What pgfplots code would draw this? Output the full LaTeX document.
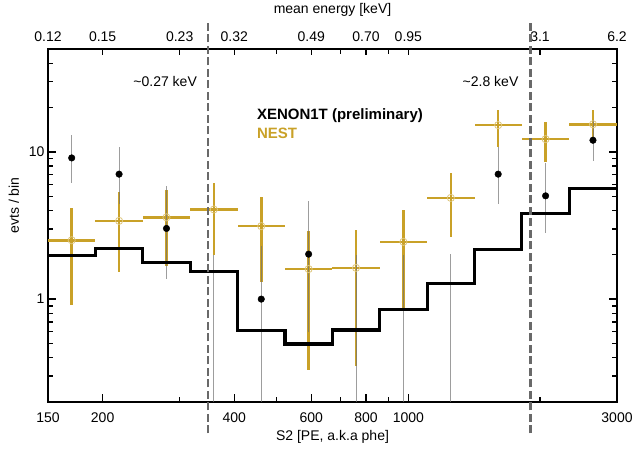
\documentclass[border=0pt]{standalone}
\usepackage{fontspec}
\setmainfont{Liberation Sans}
\usepackage{pgfplots}
\pgfplotsset{compat=1.18}
\usepackage{pgfplotstable}
\usetikzlibrary{calc}

\definecolor{nest}{RGB}{201,161,40}
\definecolor{nestlt}{RGB}{222,198,125}
\definecolor{cutgray}{RGB}{105,105,105}

% NEST prediction: bin centre, value, bin half-widths, error bar
\pgfplotstableread{
x       y     xm      xp      ym    yp
169.93  2.51  19.93   22.58   1.60  1.62
218.08  3.40  25.57   28.98   1.87  1.90
279.88  3.59  32.82   37.19   1.91  1.96
359.19  4.06  42.12   47.73   2.07  2.10
460.98  3.13  54.06   61.25   1.82  1.82
591.6   1.60  69.37   78.61   1.27  1.29
759.25  1.63  89.04   100.88  1.28  1.31
974.4   2.45  114.27  129.5   1.59  1.61
1250.5  4.87  146.6   166.2   2.22  2.27
1604.9  15.2  188.2   213.2   4.4   4.0
2059.7  12.2  241.6   273.7   3.65  3.8
2643.4  15.4  310.0   356.6   3.1   4.0
}\nestdata

% XENON1T data, error bars (empty bins drawn from the bottom)
\pgfplotstableread{
x       y     ym    yp
169.93  9.1   2.94  4.0
218.08  7.06  2.66  3.74
279.88  3.02  1.64  2.88
359.19  0.2   0     1.8
460.98  1.0   0.8   1.3
591.6   2.02  1.42  2.61
759.25  0.2   0     1.8
974.4   0.2   0     1.8
1250.5  0.2   0     1.82
1604.9  7.06  2.65  3.74
2059.7  5.03  2.21  3.37
2643.4  12.0  3.35  4.5
}\xebars

\pgfplotstableread{
x       y
169.93  9.1
218.08  7.06
279.88  3.02
460.98  1.0
591.6   2.02
1604.9  7.06
2059.7  5.03
2643.4  12.0
}\xedots

% model histogram, left bin edges
\pgfplotstableread{
x       y
150     1.99
192.51  2.21
247.06  1.775
317.07  1.533
406.92  0.609
522.23  0.495
670.21  0.616
860.13  0.851
1103.9  1.28
1416.7  2.185
1818.1  3.82
2333.4  5.64
3000    5.64
}\model

\begin{document}
\begin{tikzpicture}[font=\fontsize{14bp}{16bp}\selectfont]
% top axis: mean energy
\begin{axis}[
  scale only axis, width=569bp, height=353bp,
  xmode=log, ymode=log,
  xmin=150, xmax=3000, ymin=0.2, ymax=50,
  axis line style={line width=2.5bp},
  tick align=inside,
  tick style={black, line width=1.4bp},
  major tick length=6.5bp, minor tick length=5.5bp,
  tick label style={font=\fontsize{14bp}{16bp}\selectfont},
  label style={font=\fontsize{14bp}{16bp}\selectfont},
  ytick=\empty, yminorticks=false,
  xtick pos=right, xticklabel pos=right,
  xtick={150,200,300,400,600,800,1000,2000,3000},
  xticklabels={0.12,0.15,0.23,0.32,0.49,0.70,0.95,3.1,6.2},
  minor xtick={500,700,900},
  xticklabel style={yshift=4bp},
  xlabel={mean energy [keV]},
  xlabel style={at={(rel axis cs:0.5,1.1105)}, anchor=center},
]
\addplot[draw=none] coordinates {(150,1) (3000,1)};
\end{axis}
% main axis
\begin{axis}[
  scale only axis, width=569bp, height=353bp,
  xmode=log, ymode=log,
  xmin=150, xmax=3000, ymin=0.2, ymax=50,
  axis line style={line width=2.5bp},
  tick align=inside,
  tick style={black, line width=1.4bp},
  major tick length=8bp, minor tick length=5.5bp,
  tick label style={font=\fontsize{14bp}{16bp}\selectfont},
  label style={font=\fontsize{14bp}{16bp}\selectfont},
  clip=false,
  xtick pos=left, ytick pos=both, yticklabel pos=left,
  xtick={150,200,400,600,800,1000,3000},
  xticklabels={150,200,400,600,800,1000,3000},
  minor xtick={300,500,700,900,2000},
  xticklabel style={yshift=-7bp},
  ytick={1,10}, yticklabels={1,10},
  minor ytick={0.2,0.3,0.4,0.5,0.6,0.7,0.8,0.9,2,3,4,5,6,7,8,9,20,30,40},
  xlabel={S2 [PE, a.k.a phe]},
  xlabel style={at={(rel axis cs:0.5,-0.0992)}, anchor=center},
  ylabel={evts / bin},
  ylabel style={at={(rel axis cs:-0.0598,0.557)}, anchor=center},
]
\coordinate (sw) at (rel axis cs:0,0);
\coordinate (ne) at (rel axis cs:1,1);

\addplot[only marks, mark=o, mark size=3.6bp,
  mark options={draw=nestlt, line width=0.8bp},
  error bars/.cd, x dir=both, x explicit, y dir=both, y explicit,
  error mark=none, error bar style={line width=2.6bp, draw=nest}]
  table[x=x, y=y, x error minus=xm, x error plus=xp,
        y error minus=ym, y error plus=yp] {\nestdata};

\addplot[draw=none, mark=none, forget plot,
  error bars/.cd, y dir=both, y explicit, error mark=none,
  error bar style={line width=0.8bp, draw=black!55, opacity=0.7}]
  table[x=x, y=y, y error minus=ym, y error plus=yp] {\xebars};

\addplot[only marks, mark=*, mark size=3.3bp, black] table[x=x, y=y] {\xedots};

\addplot[const plot, line width=3.2bp, black] table[x=x, y=y] {\model};

\draw[cutgray, line width=2.6bp, dash pattern=on 8bp off 3.5bp]
  (axis cs:348,0.1225) -- (axis cs:348,76.3);
\draw[cutgray, line width=2.6bp, dash pattern=on 8bp off 3.5bp]
  (axis cs:1903,0.1225) -- (axis cs:1903,76.3);

\node[anchor=east, inner sep=0pt] at (rel axis cs:0.262,0.907) {\textasciitilde0.27 keV};
\node[anchor=east, inner sep=0pt] at (rel axis cs:0.827,0.907) {\textasciitilde2.8 keV};
\node[anchor=west, inner sep=0pt, font=\fontsize{15bp}{17bp}\selectfont\bfseries]
  at (rel axis cs:0.367,0.810) {XENON1T (preliminary)};
\node[anchor=west, inner sep=0pt, text=nest, font=\fontsize{15bp}{17bp}\selectfont\bfseries]
  at (rel axis cs:0.367,0.761) {NEST};
\end{axis}
\pgfresetboundingbox
\path ($(sw)+(-48bp,-54bp)$) rectangle ($(ne)+(20bp,49bp)$);
\end{tikzpicture}
\end{document}
